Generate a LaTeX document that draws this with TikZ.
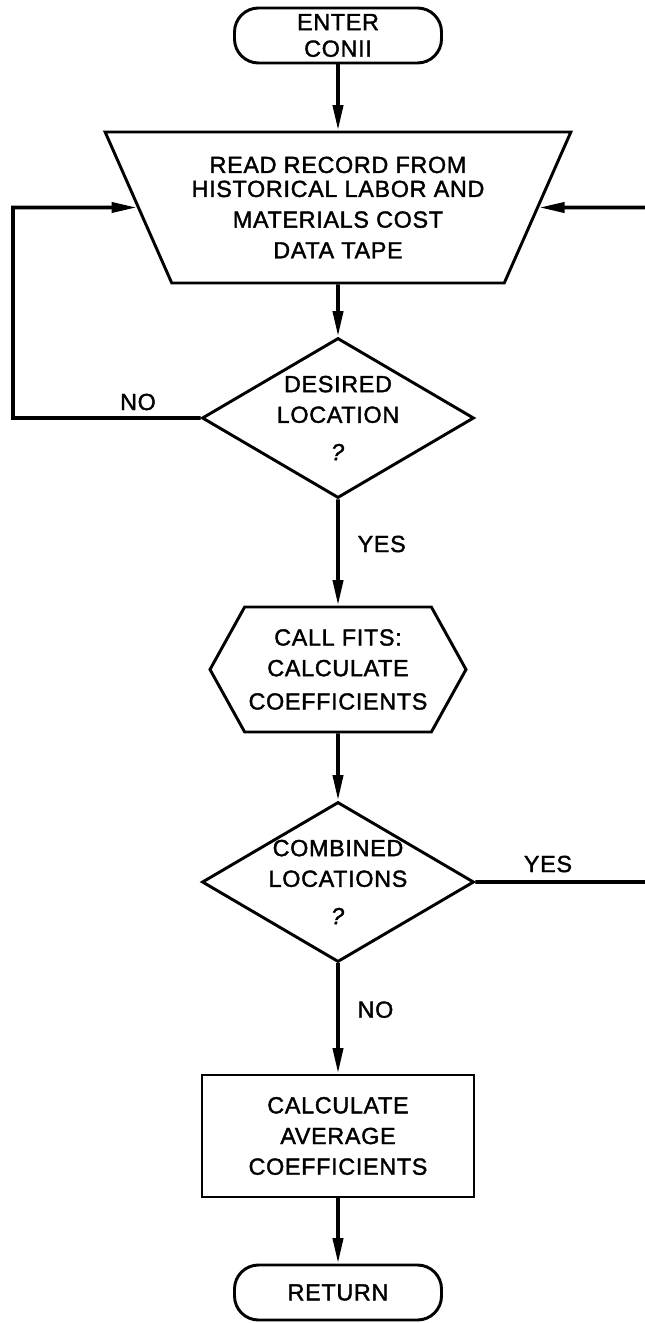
\documentclass[tikz,border=0pt]{standalone}
\usepackage{fontspec}
\setmainfont{Liberation Sans}[FakeBold=1.6,LetterSpace=3]
\usetikzlibrary{shapes.geometric,shapes.symbols,arrows.meta}

\begin{document}
\begin{tikzpicture}[x=0.75pt,y=-0.75pt,
  txt/.style={font=\fontsize{17.5}{23}\selectfont,align=center},
  shp/.style={txt,draw,line width=2.2pt,fill=white,inner sep=0pt},
  terminal/.style={shp,rounded corners=18pt,minimum width=207*0.75pt,minimum height=55*0.75pt},
  tapein/.style={shp,trapezium,trapezium left angle=120,trapezium right angle=120,
    trapezium stretches=true,minimum width=468*0.75pt,minimum height=151*0.75pt},
  decision/.style={shp,diamond,aspect=1.7,inner sep=-6pt,minimum width=272*0.75pt,minimum height=160*0.75pt},
  prep/.style={shp,signal,signal to=west and east,signal pointer angle=122,
    minimum width=256*0.75pt,minimum height=125*0.75pt},
  process/.style={shp,rectangle,minimum width=272*0.75pt,minimum height=122*0.75pt},
  conn/.style={line width=2.8pt,-{Triangle[length=19pt,width=7.5pt]}},
  lbl/.style={txt}
]
\useasboundingbox (0,0) rectangle (645,1323);
\clip (0,0) rectangle (645,1323);

% flowchart blocks
\node[terminal] (enter) at (338,35.5) {ENTER\\[-3pt]CONII};
\node[tapein] (read) at (338,207.5) {READ RECORD FROM\\[-5pt]HISTORICAL LABOR AND\\MATERIALS COST\\DATA TAPE};
\node[decision] (desired) at (338,418) {DESIRED\\LOCATION\\[5pt]\textit{?}};
\node[prep] (fits) at (338,669.5) {CALL FITS:\\CALCULATE\\[2pt]COEFFICIENTS};
\node[decision] (combined) at (338,882) {COMBINED\\LOCATIONS\\[5pt]\textit{?}};
\node[process] (average) at (338,1136) {CALCULATE\\AVERAGE\\COEFFICIENTS};
\node[terminal] (return) at (338,1292.5) {RETURN};

% loop-back corners
\coordinate (lcorner) at (13,207.5);
\coordinate (rcorner) at (660,207.5);

% connectors
\draw[conn] (enter) -- (read);
\draw[conn] (read) -- (desired);
\draw[conn] (desired) -- node[lbl,right=10pt,pos=0.42] (yes1) {YES} (fits);
\draw[conn] (fits) -- (combined);
\draw[conn] (combined) -- node[lbl,right=10pt,pos=0.42] (no2) {NO} (average);
\draw[conn] (average) -- (return);
\draw[conn] (desired.west) -| (lcorner) -- (read.west);
\draw[conn] (combined.east) -| (rcorner) -- (read.east);

% branch labels
\node[lbl] (no1) at (138,402) {NO};
\node[lbl] (yes2) at (548,864) {YES};
\end{tikzpicture}
\end{document}
